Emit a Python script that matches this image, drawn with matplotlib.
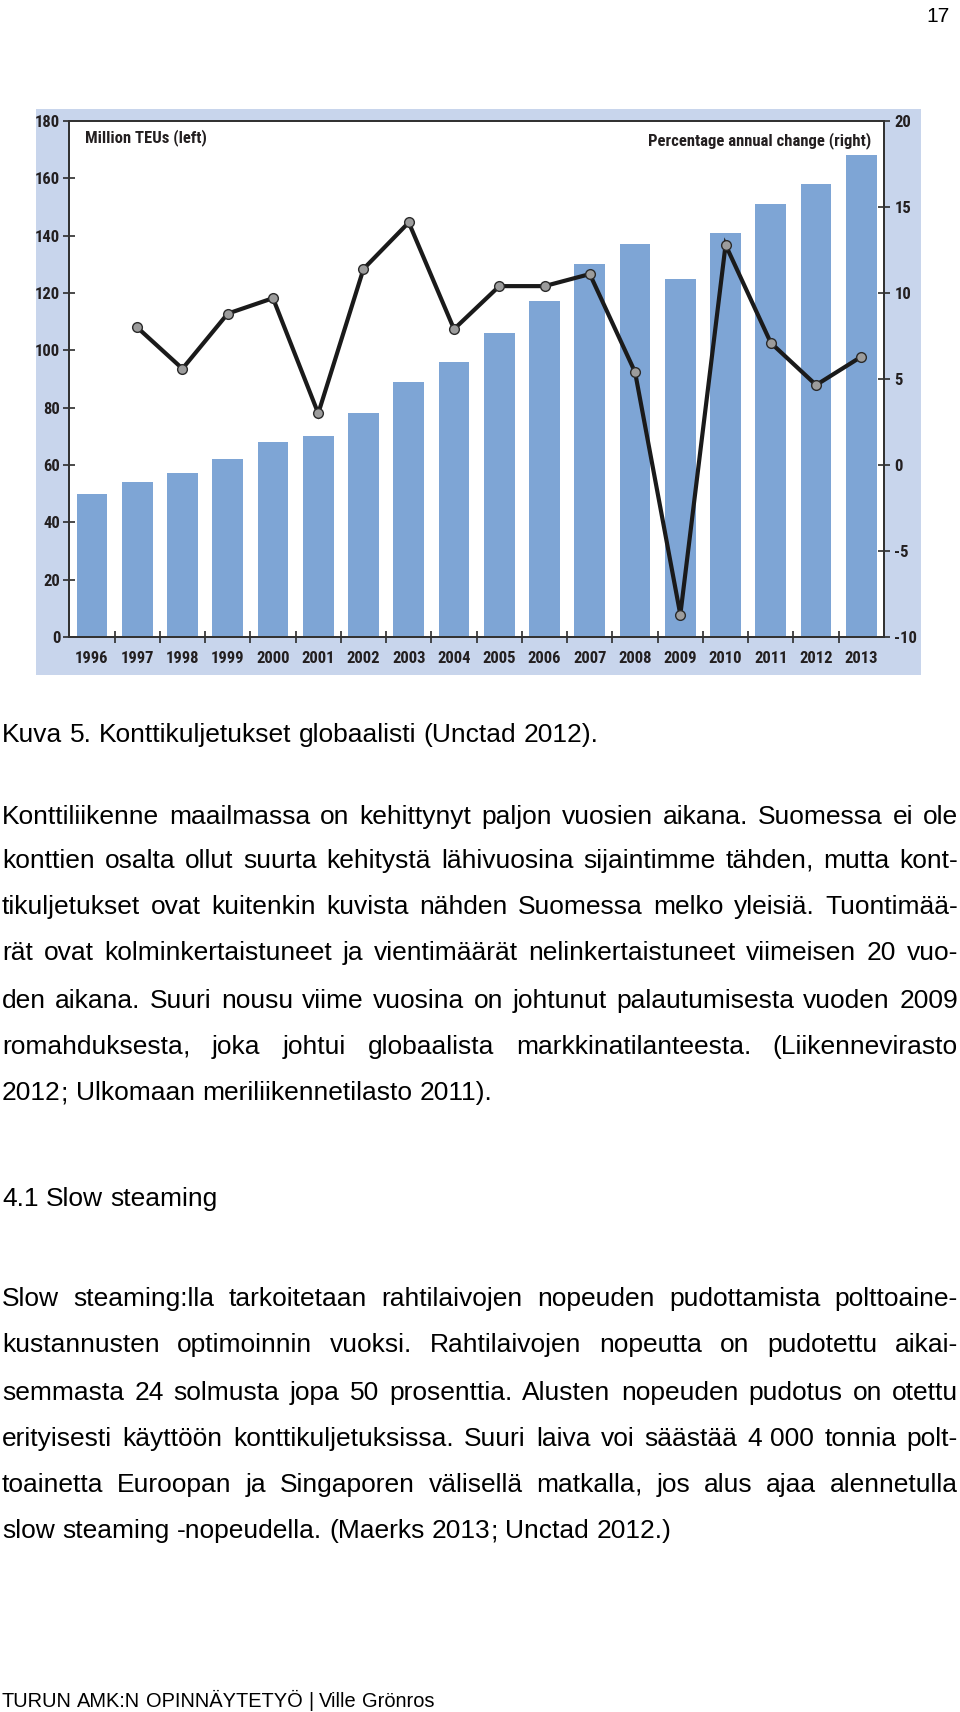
import os
import matplotlib
matplotlib.use('Agg')
import matplotlib.pyplot as plt
from matplotlib.patches import Rectangle
from matplotlib import font_manager
from matplotlib.font_manager import FontProperties

plt.rcParams['axes.unicode_minus'] = False

# ---------------- data ----------------
years = [str(y) for y in range(1996, 2014)]
teu_million = [50, 54, 57.2, 62, 68, 70, 78, 88.8, 96, 106, 117.2, 130, 137, 125, 141, 151, 158, 168]
pct_years = years[1:]
pct_change = [8.0, 5.6, 8.8, 9.7, 3.0, 11.4, 14.1, 7.9, 10.4, 10.4, 11.1, 5.4, -8.7, 12.8, 7.1, 4.65, 6.3]
left_ticks = [0, 20, 40, 60, 80, 100, 120, 140, 160, 180]
right_ticks = [-10, -5, 0, 5, 10, 15, 20]
left_label = "Million TEUs (left)"
right_label = "Percentage annual change (right)"

caption = "Kuva 5. Konttikuljetukset globaalisti (Unctad 2012)."
para1 = [
    ("Konttiliikenne maailmassa on kehittynyt paljon vuosien aikana. Suomessa ei ole", True),
    ("konttien osalta ollut suurta kehitystä lähivuosina sijaintimme tähden, mutta kont-", True),
    ("tikuljetukset ovat kuitenkin kuvista nähden Suomessa melko yleisiä. Tuontimää-", True),
    ("rät ovat kolminkertaistuneet ja vientimäärät nelinkertaistuneet viimeisen 20 vuo-", True),
    ("den aikana. Suuri nousu viime vuosina on johtunut palautumisesta vuoden 2009", True),
    ("romahduksesta, joka johtui globaalista markkinatilanteesta. (Liikennevirasto", True),
    ("2012; Ulkomaan meriliikennetilasto 2011).", False),
]
heading = "4.1 Slow steaming"
para2 = [
    ("Slow steaming:lla tarkoitetaan rahtilaivojen nopeuden pudottamista polttoaine-", True),
    ("kustannusten optimoinnin vuoksi. Rahtilaivojen nopeutta on pudotettu aikai-", True),
    ("semmasta 24 solmusta jopa 50 prosenttia. Alusten nopeuden pudotus on otettu", True),
    ("erityisesti käyttöön konttikuljetuksissa. Suuri laiva voi säästää 4\u00a0000 tonnia polt-", True),
    ("toainetta Euroopan ja Singaporen välisellä matkalla, jos alus ajaa alennetulla", True),
    ("slow steaming -nopeudella. (Maerks 2013; Unctad 2012.)", False),
]
footer = "TURUN AMK:N OPINNÄYTETYÖ | Ville Grönros"
page_no = "17"

# ---------------- fonts ----------------
def find_condensed_bold():
    ranks = ['liberationsansnarrow', 'arialn', 'robotocondensed', 'notosans-condensed',
             'notosans_condensed', 'notosanscondensed', 'opensans_condensed', 'opensanscondensed',
             'dejavusanscondensed', 'condensed', 'narrow']
    best = None
    for f in font_manager.fontManager.ttflist:
        fn = os.path.basename(f.fname).lower().replace(' ', '')
        if not ('narrow' in fn or 'condensed' in fn):
            continue
        if 'bold' not in fn or any(k in fn for k in ('italic', 'oblique', 'extra', 'semibold', 'semi')):
            continue
        r = next((i for i, k in enumerate(ranks) if k in fn), len(ranks))
        if best is None or r < best[0]:
            best = (r, f.fname)
    return best[1] if best else None

cond_path = find_condensed_bold()
CS = 12.0

def cond_fp(size=CS):
    if cond_path:
        return FontProperties(fname=cond_path, size=size)
    return FontProperties(family='Liberation Sans', weight='bold', size=size * 0.86)

BODY = 'Liberation Sans'

# ---------------- layout ----------------
W, H = 960, 1712
fig = plt.figure(figsize=(W / 100, H / 100), dpi=100)
fig.patch.set_facecolor('white')

def fx(px):
    return px / W

def fy(py):
    return 1 - py / H

# chart panel background
fig.patches.append(Rectangle((fx(36), fy(675)), (921 - 36) / W, (675 - 109) / H,
                             transform=fig.transFigure, facecolor='#c8d5ec',
                             edgecolor='none', zorder=-10))

ax = fig.add_axes([fx(69.3), fy(637), (884 - 69.3) / W, (637 - 121) / H], zorder=1)
ax.set_facecolor('white')
x = list(range(len(years)))
ax.bar(x, teu_million, width=0.68, color='#7ea5d5', zorder=2)
ax.set_xlim(-0.5, len(years) - 0.5)
ax.set_ylim(0, 180)
ax.set_yticks(left_ticks)
ax.set_xticks(x)
ax.set_xticklabels(years)
ax.set_xticks([i + 0.5 for i in range(len(years) - 1)], minor=True)

tick_col = '#2b2b2b'
lab_col = '#231f20'
ax.tick_params(axis='x', which='major', length=0, pad=10, labelcolor=lab_col)
ax.tick_params(axis='x', which='minor', direction='inout', length=9, width=1.2, color=tick_col)
ax.tick_params(axis='y', direction='inout', length=9, width=1.2, color=tick_col,
               pad=2, labelcolor=lab_col)
for sp in ax.spines.values():
    sp.set_color('#333333')
    sp.set_linewidth(1.4)

ax2 = ax.twinx()
ax2.set_ylim(-10, 20)
ax2.set_yticks(right_ticks)
ax2.tick_params(axis='y', direction='inout', length=9, width=1.2, color=tick_col,
                pad=3, labelcolor=lab_col)
for sp in ax2.spines.values():
    sp.set_color('#333333')
    sp.set_linewidth(1.4)
px = [years.index(y) for y in pct_years]
ax2.plot(px, pct_change, color='#1a1a1a', lw=3.0, marker='o', ms=7,
         mfc='#9c9c9c', mec='#2a2a2a', mew=1.0, solid_joinstyle='miter', zorder=5)

for lab in ax.get_xticklabels() + ax.get_yticklabels() + ax2.get_yticklabels():
    lab.set_fontproperties(cond_fp())

ax.text(0.019, 0.968, left_label, transform=ax.transAxes, ha='left', va='center',
        fontproperties=cond_fp(), color=lab_col)
ax.text(0.984, 0.962, right_label, transform=ax.transAxes, ha='right', va='center',
        fontproperties=cond_fp(), color=lab_col)

# ---------------- page text ----------------
renderer = fig.canvas.get_renderer()
FS = 19.0

def text_width(s, size):
    w, _, _ = renderer.get_text_width_height_descent(
        s, FontProperties(family=BODY, size=size), ismath=False)
    return w

def put(xpx, base, s, size):
    fig.text(fx(xpx), fy(base), s, fontsize=size, family=BODY, va='baseline',
             ha='left', color='black')

def draw_line(s, yc, justify, size=FS, x0=2, x1=958):
    space_w = text_width("a a", size) - text_width("aa", size)
    base = round(yc + 0.36 * size * 100 / 72)
    words = s.split(' ')
    widths = [text_width(w, size) for w in words]
    if justify and len(words) > 1:
        gap = (x1 - x0 - sum(widths)) / (len(words) - 1)
    else:
        gap = space_w
    xx = x0
    for w, wd in zip(words, widths):
        if len(w) > 1 and w[-1] in ',;':
            core = w[:-1]
            put(xx, base, core, size)
            put(xx + text_width(core, size), base, w[-1], size)
        else:
            put(xx, base, w, size)
        xx += wd + gap

draw_line(caption, 732, False)
for (s, j), yc in zip(para1, [814, 858, 904, 951, 998, 1044, 1090]):
    draw_line(s, yc, j)
draw_line(heading, 1196, False)
for (s, j), yc in zip(para2, [1297, 1343, 1390, 1436, 1483, 1529]):
    draw_line(s, yc, j)
draw_line(footer, 1700, False, size=14.4)
fig.text(fx(950), fy(14), page_no, fontsize=15, family=BODY, ha='right', va='center_baseline')

fig.savefig('out.png', dpi=100)
